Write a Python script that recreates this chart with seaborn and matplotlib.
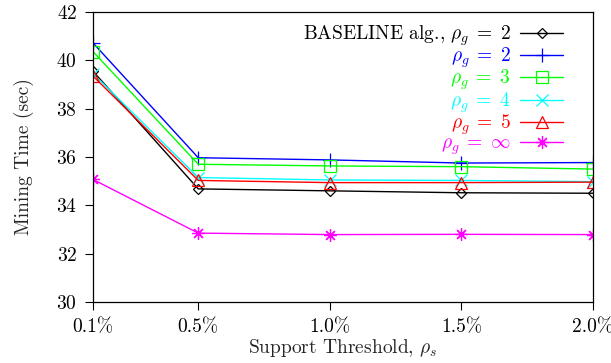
import matplotlib
matplotlib.use("Agg")
import matplotlib.pyplot as plt
import seaborn as sns
import pandas as pd

support = [0.1, 0.5, 1.0, 1.5, 2.0]
tick_labels = ["0.1%", "0.5%", "1.0%", "1.5%", "2.0%"]

baseline = [39.55, 34.68, 34.60, 34.52, 34.50]
rho2 = [40.72, 35.97, 35.88, 35.75, 35.77]
rho3 = [40.36, 35.70, 35.63, 35.60, 35.50]
rho4 = [39.45, 35.15, 35.05, 35.03, 34.98]
rho5 = [39.35, 35.03, 34.94, 34.94, 34.96]
rhoinf = [35.07, 32.85, 32.79, 32.80, 32.79]

labels = ["BASELINE alg., $\\rho_g\\;=\\;2$", "$\\rho_g\\;=\\;2$", "$\\rho_g\\;=\\;3$",
          "$\\rho_g\\;=\\;4$", "$\\rho_g\\;=\\;5$", "$\\rho_g\\;=\\;\\infty$"]
series = [baseline, rho2, rho3, rho4, rho5, rhoinf]
colors = ["black", "#0000ff", "#00ff00", "#00ffff", "#ff0000", "#ff00ff"]
markers = ["D", "+", "s", "x", "^", (8, 2, 0)]
msizes = [5, 10, 8, 8, 8, 9]

sns.set_theme(style="white")
plt.rcParams["font.family"] = ["cmr10"]
plt.rcParams["mathtext.fontset"] = "cm"
plt.rcParams["axes.formatter.use_mathtext"] = True

fig = plt.figure(figsize=(6.11, 3.63), dpi=100)
ax = fig.add_axes([93 / 611, 1 - 302 / 363, 500 / 611, 290 / 363])

for lab, vals, c, m, ms in zip(labels, series, colors, markers, msizes):
    df = pd.DataFrame({"x": support, "y": vals})
    sns.lineplot(data=df, x="x", y="y", ax=ax, color=c, marker=m, markersize=ms,
                 markerfacecolor="none", markeredgecolor=c, markeredgewidth=0.9,
                 linewidth=1.0, label=lab)

ax.set_xlim(0.1, 2.0)
ax.set_ylim(30, 42)
ax.set_xticks(support)
ax.set_xticklabels(tick_labels)
ax.set_yticks([30, 32, 34, 36, 38, 40, 42])
ax.tick_params(axis="both", direction="out", length=5.5, width=0.8, labelsize=14,
               bottom=True, left=True, colors="black")
ax.tick_params(axis="x", pad=6)
ax.tick_params(axis="y", pad=6)
for s in ax.spines.values():
    s.set_color("black")
    s.set_linewidth(0.9)
ax.set_xlabel("Support Threshold, $\\rho_s$", fontsize=14, labelpad=1)
ax.set_ylabel("Mining Time (sec)", fontsize=14, labelpad=16)

leg = ax.legend(loc="upper right", bbox_to_anchor=(0.94, 0.96), frameon=False,
                markerfirst=False, fontsize=14, handlelength=2.2, handletextpad=0.5,
                labelspacing=-0.12, borderpad=0.0, borderaxespad=0.0,
                labelcolor="linecolor")

fig.savefig("out.png", dpi=100)
